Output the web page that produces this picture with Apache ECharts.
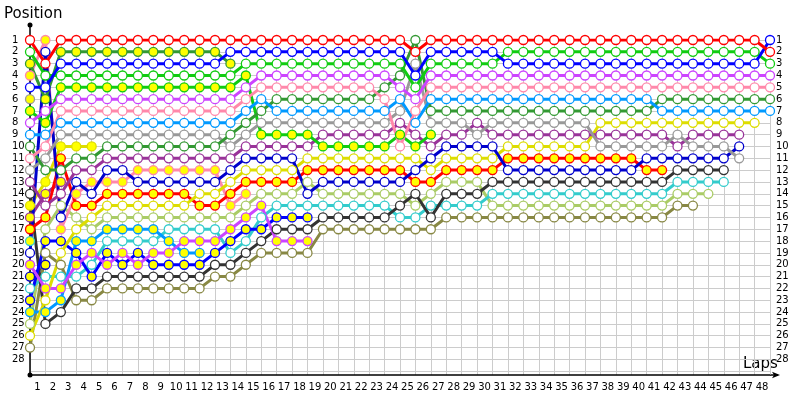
<!DOCTYPE html>
<html><head><meta charset="utf-8">
<script src="https://cdn.jsdelivr.net/npm/echarts@6/dist/echarts.min.js"></script>
<style>html,body{margin:0;padding:0;background:#fff}#c{width:800px;height:400px}</style>
</head><body><div id="c"></div>
<script>
// Lap numbers (lap 0 = grid) and position tick labels
const laps = [0,1,2,3,4,5,6,7,8,9,10,11,12,13,14,15,16,17,18,19,20,21,22,23,24,25,26,27,28,29,30,31,32,33,34,35,36,37,38,39,40,41,42,43,44,45,46,47,48];
const lapLabels = [1,2,3,4,5,6,7,8,9,10,11,12,13,14,15,16,17,18,19,20,21,22,23,24,25,26,27,28,29,30,31,32,33,34,35,36,37,38,39,40,41,42,43,44,45,46,47,48];
const positionLabels = [1,2,3,4,5,6,7,8,9,10,11,12,13,14,15,16,17,18,19,20,21,22,23,24,25,26,27,28];
const gridLines = [1,2,3,4,5,6,7,8,9,10,11,12,13,14,15,16,17,18,19,20,21,22,23,24,25,26,27,28,29];

// Position of each driver per lap (index = lap), null = retired
const redA    = [1,3,1,1,1,1,1,1,1,1, 1,1,1,1,1,1,1,1,1,1, 1,1,1,1,1,2,1,1,1,1, 1,1,1,1,1,1,1,1,1,1, 1,1,1,1,1,1,1,1,2];
const blueA   = [5,5,3,3,3,3,3,3,3,3, 3,3,3,2,2,2,2,2,2,2, 2,2,2,2,2,4,2,2,2,2, 2,3,3,3,3,3,3,3,3,3, 3,3,3,3,3,3,3,3,1];
const greenA  = [2,4,4,4,4,4,4,4,4,4, 4,4,4,4,3,3,3,3,3,3, 3,3,3,3,3,5,3,3,3,3, 3,2,2,2,2,2,2,2,2,2, 2,2,2,2,2,2,2,2,3];
const violetA = [8,7,6,6,6,6,6,6,6,6, 6,6,6,6,5,4,4,4,4,4, 4,4,4,4,5,6,4,4,4,4, 4,4,4,4,4,4,4,4,4,4, 4,4,4,4,4,4,4,4,4];
const pinkA   = [11,10,7,7,7,7,7,7,7,7, 7,7,7,7,6,5,5,5,5,5, 5,5,5,6,10,7,5,5,5,5, 5,5,5,5,5,5,5,5,5,5, 5,5,5,5,5,5,5,5,5];
const forestA = [10,12,12,11,11,10,10,10,10,10, 10,10,10,9,8,7,6,6,6,6, 6,6,6,5,4,1,7,7,7,7, 7,7,7,7,7,7,7,7,7,7, 7,6,6,6,6,6,6,6,6];
const skyA    = [9,9,8,8,8,8,8,8,8,8, 8,8,8,8,7,6,7,7,7,7, 7,7,7,7,6,8,6,6,6,6, 6,6,6,6,6,6,6,6,6,6, 6,7,7,7,7,7,7,7,7];
const yellowA = [26,23,19,17,16,15,15,15,15,15, 15,14,14,13,12,12,12,12,11,11, 11,11,11,11,11,11,12,11,11,11, 11,10,10,10,10,10,10,8,8,8, 8,8,8,8,8,8,8,8,null];
const purpleA = [13,15,14,12,12,11,11,11,11,11, 11,11,11,11,10,10,10,10,10,9, 9,9,9,9,8,9,10,9,9,8, 9,9,9,9,9,9,9,9,9,9, 9,9,10,9,9,9,9,null,null];
const navyA   = [19,2,16,13,14,12,12,13,13,13, 13,13,13,12,11,11,11,11,14,13, 13,13,13,13,13,12,11,10,10,10, 10,12,12,12,12,12,12,12,12,12, 11,11,11,11,11,11,10,null,null];
const greyA   = [12,11,9,9,9,9,9,9,9,9, 9,9,9,10,9,8,8,8,8,8, 8,8,8,8,7,3,8,8,8,9, 8,8,8,8,8,8,8,10,10,10, 10,10,9,10,10,10,11,null,null];
const blackA  = [14,25,24,22,22,21,21,21,21,21, 21,21,20,20,19,18,17,17,17,16, 16,16,16,16,15,14,16,14,14,14, 13,13,13,13,13,13,13,13,13,13, 13,13,12,12,12,12,null,null,null];
const cyanA   = [22,21,21,21,20,18,18,18,18,17, 17,17,17,19,18,16,15,15,15,15, 15,15,15,15,16,16,15,15,15,15, 14,14,14,14,14,14,14,14,14,14, 14,14,13,13,13,13,null,null,null];
const limeA   = [25,17,15,16,17,16,16,16,16,16, 16,16,16,16,15,14,14,14,13,14, 14,14,14,14,14,15,14,13,13,13, 15,15,15,15,15,15,15,15,15,15, 15,15,14,14,14,null,null,null,null];
const oliveA  = [27,19,20,23,23,22,22,22,22,22, 22,22,21,21,20,19,19,19,19,17, 17,17,17,17,17,17,17,16,16,16, 16,16,16,16,16,16,16,16,16,16, 16,16,15,15,null,null,null,null,null];
const redB    = [17,16,11,15,15,14,14,14,14,14, 14,15,15,14,13,13,13,13,12,12, 12,12,12,12,12,13,13,12,12,12, 12,11,11,11,11,11,11,11,11,11, 12,12];
const forestB = [3,6,2,2,2,2,2,2,2,2, 2,2,2,3];
const greenB  = [7,8,5,5,5,5,5,5,5,5, 5,5,5,5,4,9,9,9,9,10, 10,10,10,10,9,10,9];
const pinkB   = [4,1,17,14,13,13,13,12,12,12, 12,12,12,15,14];
const yellowB = [15,13,10,10,10];
const violetB = [20,22,22,20,19,20,19,20,19,19, 18,18,18,17,16,15,18,18,18];
const blueB   = [23,18,18,19,21,19,20,19,20,20, 20,20,19,18,17,17,16,16,16];
const skyB    = [24,24,23,18,18,17,17,17,17,18, 19,19];
const purpleB = [16,14,13];
const navyB   = [21,20];
const greyB   = [6];
const cyanB   = [18];

const W = '#ffffff', Y = '#ffff00';
const drivers = [
  ['Grey 2', '#999999', Y, greyB],
  ['Cyan 2', '#33cccc', Y, cyanB],
  ['Navy 2', '#0000cc', Y, navyB],
  ['Purple 2', '#993399', Y, purpleB],
  ['Olive 1', '#888844', W, oliveA],
  ['Lime 1', '#aacc66', W, limeA],
  ['Cyan 1', '#33cccc', W, cyanA],
  ['Black 1', '#333333', W, blackA],
  ['Sky 2', '#0099ff', Y, skyB],
  ['Blue 2', '#0000ff', Y, blueB],
  ['Violet 2', '#cc44ff', Y, violetB],
  ['Yellow 2', '#dddd00', Y, yellowB],
  ['Pink 2', '#ff88aa', Y, pinkB],
  ['Red 2', '#ff0000', Y, redB],
  ['Yellow 1', '#dddd00', W, yellowA],
  ['Navy 1', '#0000cc', W, navyA],
  ['Purple 1', '#993399', W, purpleA],
  ['Grey 1', '#999999', W, greyA],
  ['Green 2', '#11cc11', Y, greenB],
  ['Forest 1', '#339933', W, forestA],
  ['Sky 1', '#0099ff', W, skyA],
  ['Pink 1', '#ff88aa', W, pinkA],
  ['Violet 1', '#cc44ff', W, violetA],
  ['Forest 2', '#339933', Y, forestB],
  ['Green 1', '#11cc11', W, greenA],
  ['Blue 1', '#0000ff', W, blueA],
  ['Red 1', '#ff0000', W, redA]
];

const FONT = 'DejaVu Sans';
const chart = echarts.init(document.getElementById('c'), null, {renderer: 'canvas'});
const series = drivers.map(([name, color, fill, pos]) => ({
  name, type: 'line', color,
  data: pos.map((p, i) => [laps[i], p]).filter(d => d[1] !== null && d[1] !== undefined),
  symbol: 'circle', symbolSize: 9, showSymbol: true,
  lineStyle: {color, width: 3},
  itemStyle: {color: fill, borderColor: color, borderWidth: 1.3},
  emphasis: {disabled: true}, silent: true
}));

chart.setOption({
  animation: false,
  backgroundColor: '#ffffff',
  grid: {left: 30, right: 30, top: 40, bottom: 25, containLabel: false},
  xAxis: {
    type: 'value', min: 0, max: 48, interval: 1,
    axisLine: {show: true, lineStyle: {color: '#000', width: 1.5}, symbol: ['circle', 'arrow'], symbolSize: [5, 8], symbolOffset: [0, 10]},
    axisTick: {show: false, customValues: laps},
    splitLine: {show: true, lineStyle: {color: '#cccccc', width: 1}},
    axisLabel: {
      customValues: lapLabels, margin: 7, color: '#000', fontFamily: FONT, fontSize: 10,
      formatter: v => '{a|' + v + '}',
      rich: {a: {padding: [0, 16, 0, 0], fontFamily: FONT, fontSize: 10, color: '#000'}}
    }
  },
  yAxis: [{
    type: 'value', inverse: true, min: 1, max: 29.32,
    axisLine: {show: true, lineStyle: {color: '#000', width: 1.5}},
    axisTick: {show: false, customValues: gridLines},
    splitLine: {show: true, lineStyle: {color: '#cccccc', width: 1}},
    axisLabel: {customValues: positionLabels, align: 'left', margin: 18, color: '#000', fontFamily: FONT, fontSize: 10}
  }, {
    type: 'value', inverse: true, min: 1, max: 29.32, position: 'right', offset: 0,
    axisLine: {show: false}, axisTick: {show: false, customValues: positionLabels}, splitLine: {show: false},
    axisLabel: {customValues: positionLabels, align: 'left', margin: 6, color: '#000', fontFamily: FONT, fontSize: 10}
  }],
  graphic: [
    {type: 'line', shape: {x1: 30, y1: 25, x2: 30, y2: 40}, style: {stroke: '#000', lineWidth: 1.5}},
    {type: 'circle', shape: {cx: 30, cy: 25, r: 2.5}, style: {fill: '#000'}},
    {type: 'line', shape: {x1: 770, y1: 375, x2: 778, y2: 375}, style: {stroke: '#000', lineWidth: 1.5}},
    {type: 'text', left: 4, top: 7, style: {text: 'Position', fontFamily: FONT, fontSize: 15, fill: '#000'}},
    {type: 'text', left: 743, top: 357, style: {text: 'Laps', fontFamily: FONT, fontSize: 15, fill: '#000'}}
  ],
  series
});
</script></body></html>
